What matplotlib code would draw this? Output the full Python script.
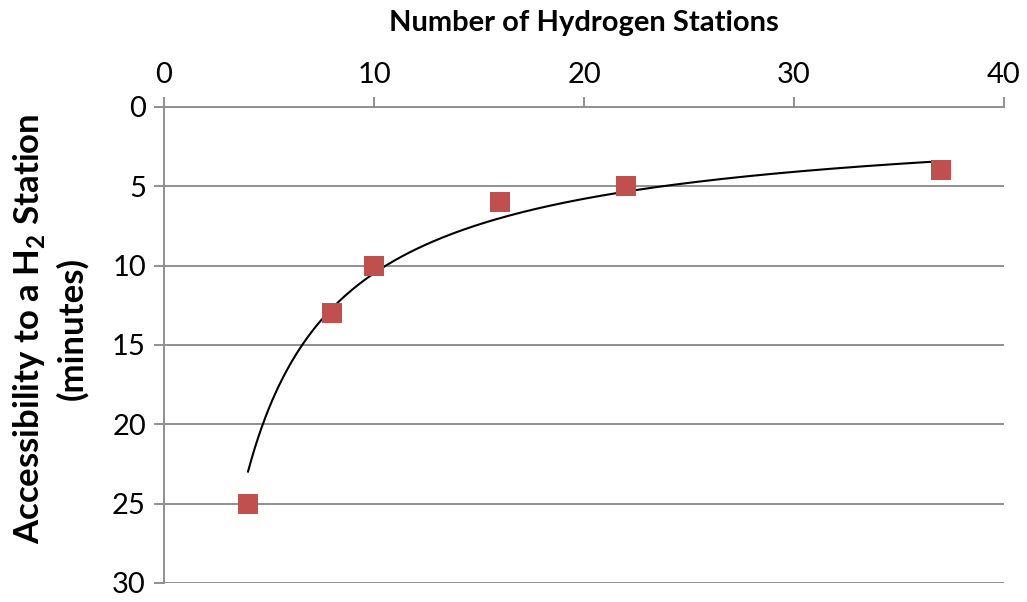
import numpy as np
import matplotlib
matplotlib.use("Agg")
from matplotlib import pyplot as plt

plt.rcParams['font.family'] = ['Lato', 'DejaVu Sans']
plt.rcParams['mathtext.fontset'] = 'custom'
plt.rcParams['mathtext.rm'] = 'Lato'
plt.rcParams['mathtext.bf'] = 'Lato:bold'

stations = np.array([4, 8, 10, 16, 22, 37])
minutes = np.array([25, 13, 10, 6, 5, 4])
x_ticks = [0, 10, 20, 30, 40]
y_ticks = [0, 5, 10, 15, 20, 25, 30]

grey = '#8f8f8f'

# power trendline y = a * x^b fitted in log space
b, log_a = np.polyfit(np.log(stations), np.log(minutes), 1)
xs = np.linspace(stations.min(), stations.max(), 200)
ys = np.exp(log_a) * xs ** b

fig = plt.figure(figsize=(10.27, 6.02), dpi=100)
ax = fig.add_axes([0.1597, 0.0316, 0.8179, 0.7907])

ax.plot(xs, ys, color='black', lw=1.5, zorder=3)
ax.scatter(stations, minutes, marker='s', s=210, color='#c0504d', zorder=4,
           linewidths=0)

ax.set_xlim(0, 40)
ax.set_ylim(30, 0)
ax.set_xticks(x_ticks)
ax.set_yticks(y_ticks)
ax.xaxis.tick_top()
ax.xaxis.set_label_position('top')
ax.yaxis.grid(True, color=grey, lw=1.4)
ax.set_axisbelow(True)

for side in ['right', 'bottom']:
    ax.spines[side].set_visible(False)
for side in ['left', 'top']:
    ax.spines[side].set_color(grey)
    ax.spines[side].set_linewidth(1.4)

ax.tick_params(axis='both', colors=grey, width=1.4, length=7, labelsize=21,
               labelcolor='black')
ax.tick_params(axis='x', pad=7)
ax.tick_params(axis='y', pad=6)

ax.set_xlabel('Number of Hydrogen Stations', fontsize=21, fontweight='bold',
              labelpad=22)
ax.set_ylabel('Accessibility to a H$_{\\mathbf{2}}$ Station\n(minutes)',
              fontsize=25, fontweight='bold', linespacing=1.35)
ax.yaxis.set_label_coords(-0.09, 0.535)

fig.savefig('out.png', dpi=100)
